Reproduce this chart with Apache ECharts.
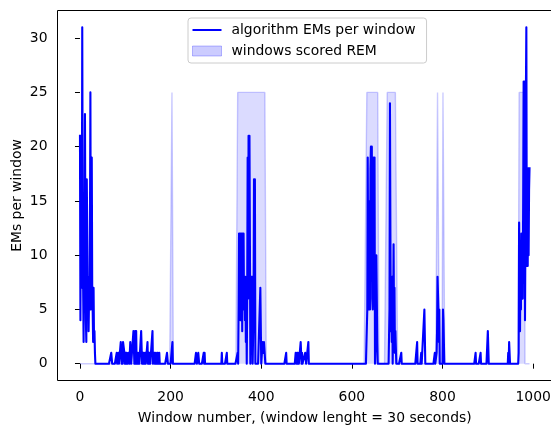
<!DOCTYPE html>
<html>
<head>
<meta charset="utf-8">
<script src="https://cdn.jsdelivr.net/npm/echarts@6/dist/echarts.min.js"></script>
<style>
  html, body { margin: 0; padding: 0; background: #ffffff; }
  #chart { width: 551px; height: 425px; }
</style>
</head>
<body>
<div id="chart"></div>
<script>
// Number of 30-second windows in the recording (0 .. windowCount-1)
const windowCount = 993;

// Windows with a non-zero EM count, and the count in each (all others are 0)
const emWindows = [
  0, 1, 2, 3, 4, 5, 6, 7, 8, 9, 10, 11, 12, 13, 14, 15, 16, 17, 18, 19,
  20, 21, 22, 23, 24, 25, 26, 27, 28, 29, 30, 31, 32, 33,
  69, 70, 81, 85, 90, 91, 93, 95, 96, 97, 98, 101, 103, 104, 107, 108,
  111, 112, 118, 119, 121, 122, 124, 127, 130, 135, 136, 139, 141, 144,
  149, 152, 154, 160, 164, 166, 167, 170, 172, 175, 192, 193, 204,
  256, 257, 261, 262, 273, 275, 313, 324,
  348, 350, 351, 352, 353, 354, 355, 356, 357, 358, 359, 360, 361, 362,
  363, 364, 365, 366, 367, 369, 370, 371, 372, 373, 374, 375, 378, 379,
  380, 383, 384, 385, 386, 398, 399, 403, 404, 405, 406, 407, 408,
  455, 476, 477, 479, 481, 482, 487, 488, 490, 497, 498, 504,
  634, 635, 636, 637, 638, 639, 640, 641, 642, 643, 644, 645, 646, 647,
  648, 649, 650, 653, 654, 655, 656,
  683, 684, 685, 686, 687, 688, 689, 691, 692, 693, 694, 695, 696, 697,
  709, 744, 753, 760, 761, 783, 787, 788, 789, 790, 791, 792, 793,
  801, 802, 803, 873, 884, 900, 901, 945, 947, 948,
  968, 969, 970, 971, 972, 973, 974, 975, 976, 977, 978, 979, 980, 981,
  982, 983, 984, 985, 986, 987, 988, 989, 990, 991, 992
];
const emCounts = [
  21, 4, 16, 12, 7, 31, 14, 7, 2, 15, 6, 23, 10, 4, 2, 17, 12, 5, 8, 3,
  6, 5, 12, 25, 5, 8, 19, 7, 5, 2, 7, 2, 3, 1,
  1, 1, 1, 1, 2, 2, 1, 2, 2, 2, 1, 1, 1, 1, 1, 1,
  2, 2, 3, 3, 1, 3, 3, 1, 1, 3, 3, 1, 1, 1,
  2, 1, 1, 3, 1, 1, 1, 1, 1, 1, 1, 1, 2,
  1, 1, 1, 1, 1, 1, 1, 1,
  1, 5, 12, 9, 12, 4, 12, 7, 12, 3, 12, 6, 12, 5,
  8, 4, 8, 2, 6, 6, 19, 6, 21, 11, 21, 11, 8, 3,
  8, 5, 17, 6, 17, 7, 7, 2, 2, 1, 2, 2, 2,
  1, 1, 1, 1, 1, 1, 2, 2, 1, 1, 1, 2,
  5, 19, 8, 15, 5, 10, 5, 18, 20, 12, 20, 6, 5, 11,
  19, 8, 19, 3, 10, 6, 2,
  5, 24, 12, 3, 8, 2, 8, 3, 11, 4, 7, 1, 3, 3,
  1, 2, 1, 5, 5, 1, 1, 3, 8, 8, 5, 2, 5,
  5, 4, 4, 1, 1, 3, 3, 1, 2, 1,
  1, 13, 6, 3, 9, 5, 12, 8, 12, 6, 15, 26, 20, 26,
  4, 12, 25, 31, 9, 14, 9, 18, 10, 16, 18
];

// Windows scored as REM (inclusive ranges)
const remStarts = [203, 348, 633, 678, 789, 801, 969];
const remEnds   = [205, 410, 659, 700, 792, 804, 981];
const remLevel = 25;

// Axis ticks
const xTicks = [0, 200, 400, 600, 800, 1000];
const yTicks = [0, 5, 10, 15, 20, 25, 30];

// Full per-window series built from the sparse lists
const emSeries = [];
const remSeries = [];
for (let w = 0; w < windowCount; w++) {
  emSeries.push([w, 0]);
  remSeries.push([w, 0]);
}
emWindows.forEach((w, i) => { emSeries[w][1] = emCounts[i]; });
remStarts.forEach((s, i) => {
  for (let w = s; w <= remEnds[i]; w++) remSeries[w][1] = remLevel;
});

const font = 'DejaVu Sans';
const fs = 13.9;
const plain = v => String(v);
const chart = echarts.init(document.getElementById('chart'), null, { renderer: 'canvas' });

chart.setOption({
  animation: false,
  backgroundColor: '#ffffff',
  grid: {
    left: 57.5, top: 10.5, width: 494.5, height: 370,
    outerBoundsMode: 'none', containLabel: false,
    show: true, borderColor: '#000000', borderWidth: 1, backgroundColor: 'transparent'
  },
  legend: {
    orient: 'vertical',
    left: 188, top: 18,
    padding: [5, 11, 5, 4],
    itemGap: 7,
    itemWidth: 29, itemHeight: 10,
    backgroundColor: 'rgba(255,255,255,0.8)',
    borderColor: '#cccccc', borderWidth: 1, borderRadius: 3,
    textStyle: { fontFamily: font, fontSize: fs, color: '#000000', padding: [0, 0, 0, 5] },
    selectedMode: false,
    data: [
      { name: 'algorithm EMs per window', icon: 'path://M0,0H29V2H0Z', itemStyle: { color: '#0000ff' } },
      { name: 'windows scored REM', icon: 'rect',
        itemStyle: { color: 'rgba(0,0,255,0.2)', borderColor: 'rgba(0,0,255,0.25)', borderWidth: 1 } }
    ]
  },
  xAxis: {
    type: 'value',
    min: -49.6, max: 1041.6,
    name: 'Window number, (window lenght = 30 seconds)',
    nameLocation: 'middle', nameGap: 31, nameMoveOverlap: false,
    nameTextStyle: { fontFamily: font, fontSize: fs, color: '#000000' },
    axisLine: { show: false },
    axisTick: { show: true, length: 5, lineStyle: { color: '#000000', width: 1 }, customValues: xTicks },
    axisLabel: { fontFamily: font, fontSize: fs, color: '#000000', margin: 10, customValues: xTicks, formatter: plain },
    splitLine: { show: false }
  },
  yAxis: {
    type: 'value',
    min: -1.55, max: 32.55,
    name: 'EMs per window',
    nameLocation: 'middle', nameGap: 33, nameMoveOverlap: false,
    nameTextStyle: { fontFamily: font, fontSize: fs, color: '#000000' },
    axisLine: { show: false },
    axisTick: { show: true, length: 5, lineStyle: { color: '#000000', width: 1 }, customValues: yTicks },
    axisLabel: { fontFamily: font, fontSize: fs, color: '#000000', margin: 10, customValues: yTicks, formatter: plain },
    splitLine: { show: false }
  },
  series: [
    {
      name: 'windows scored REM',
      type: 'line',
      data: remSeries,
      symbol: 'none',
      z: 2,
      lineStyle: { color: 'rgba(0,0,255,0.2)', width: 1.4 },
      itemStyle: { color: 'rgba(0,0,255,0.2)' },
      areaStyle: { color: 'rgba(0,0,255,0.2)', origin: 'auto' }
    },
    {
      name: 'algorithm EMs per window',
      type: 'line',
      data: emSeries,
      symbol: 'none',
      z: 3,
      lineStyle: { color: '#0000ff', width: 2.1, join: 'round', cap: 'square' },
      itemStyle: { color: '#0000ff' }
    }
  ]
});
</script>
</body>
</html>
